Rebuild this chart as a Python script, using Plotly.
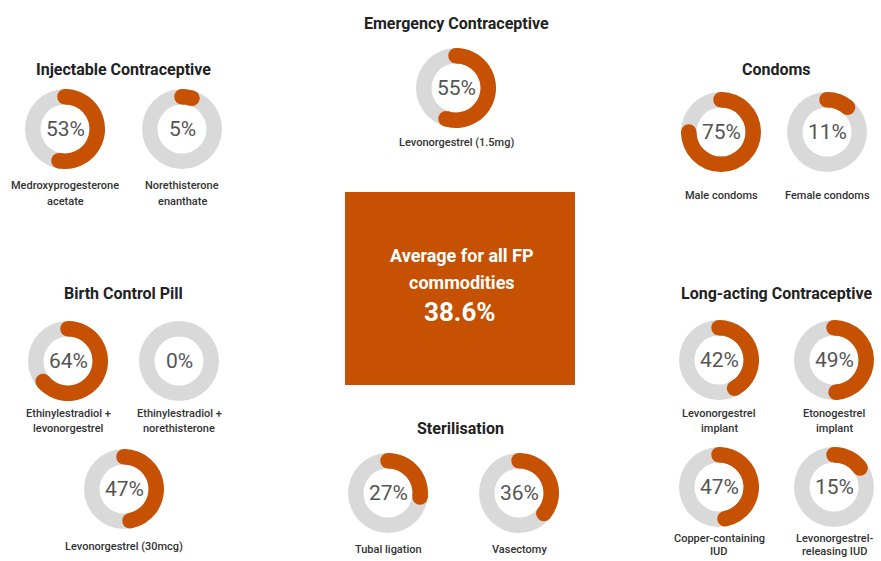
import plotly.graph_objects as go

# ---------------- data ----------------
group_titles = ["Injectable Contraceptive", "Emergency Contraceptive", "Condoms",
                "Birth Control Pill", "Sterilisation", "Long-acting Contraceptive"]
commodities = ["Medroxyprogesterone\nacetate", "Norethisterone\nenanthate",
               "Levonorgestrel (1.5mg)",
               "Male condoms", "Female condoms",
               "Ethinylestradiol +\nlevonorgestrel", "Ethinylestradiol +\nnorethisterone",
               "Levonorgestrel (30mcg)",
               "Tubal ligation", "Vasectomy",
               "Levonorgestrel\nimplant", "Etonogestrel\nimplant",
               "Copper-containing\nIUD", "Levonorgestrel-\nreleasing IUD"]
values = [53, 5, 55, 75, 11, 64, 0, 47, 27, 36, 42, 49, 47, 15]
average_label = "Average for all FP\ncommodities"
average_value = 38.6

# ---------------- layout (pixels) ----------------
W, H = 881, 561
donut_centers = [(65, 129), (182, 129), (456, 88), (721, 132), (827, 132),
                 (68, 361), (179, 361), (124, 489), (388, 493), (519, 493),
                 (719, 360), (834, 360), (719, 487), (834, 487)]
label_tops = [185, 185, 142, 195, 195, 413, 413, 546, 549, 549, 413, 413, 538, 538]
label_gaps = [16, 16, 16, 16, 16, 16, 16, 16, 16, 16, 16, 16, 13, 13]
title_pos = [(123, 70), (456, 24), (776, 70), (123, 293), (460, 428), (776, 293)]
box = (345, 192, 575, 385)

ORANGE = "#C65102"
GRAY = "#D9D9D9"
RD = 44.0          # half size of each polar domain in px
R_OUT = 40.0
R_IN = 24.5
THICK = R_OUT - R_IN

def px(x):
    return x / W

def py(y):
    return 1 - y / H

fig = go.Figure()
annotations = []
layout_polars = {}

for i, (lab, val, (cx, cy)) in enumerate(zip(commodities, values, donut_centers)):
    name = "polar" if i == 0 else f"polar{i+1}"
    sub = "polar" if i == 0 else f"polar{i+1}"
    base = R_IN / RD
    outer = R_OUT / RD
    mid = (base + outer) / 2
    # gray ring
    fig.add_trace(go.Barpolar(r=[outer - base], base=[base], theta=[180], width=[360],
                              marker=dict(color=GRAY, line=dict(width=0)),
                              subplot=sub, showlegend=False, hoverinfo="skip"))
    if val > 0:
        ang = val * 3.6
        fig.add_trace(go.Barpolar(r=[outer - base], base=[base], theta=[ang / 2], width=[ang],
                                  marker=dict(color=ORANGE, line=dict(width=0)),
                                  subplot=sub, showlegend=False,
                                  hovertemplate=lab.replace("\n", " ") + ": %{customdata}%<extra></extra>",
                                  customdata=[val]))
        # round caps
        fig.add_trace(go.Scatterpolar(r=[mid, mid], theta=[0, ang], mode="markers",
                                      marker=dict(color=ORANGE, size=THICK, line=dict(width=0)),
                                      subplot=sub, showlegend=False, hoverinfo="skip"))
    layout_polars[name] = dict(
        domain=dict(x=[px(cx - RD), px(cx + RD)], y=[py(cy + RD), py(cy - RD)]),
        radialaxis=dict(visible=False, range=[0, 1]),
        angularaxis=dict(visible=False, rotation=90, direction="clockwise"),
        bgcolor="rgba(0,0,0,0)", bargap=0, hole=0,
    )
    annotations.append(dict(x=px(cx), y=py(cy), xref="paper", yref="paper",
                            text=f"{val}%", showarrow=False, xanchor="center", yanchor="middle",
                            font=dict(family="Roboto", size=21, color="#555555")))
    for j, line in enumerate(lab.split("\n")):
        annotations.append(dict(x=px(cx), y=py(label_tops[i] + j * label_gaps[i]), xref="paper",
                                yref="paper", text=line, showarrow=False, xanchor="center",
                                yanchor="middle",
                                font=dict(family="Roboto", size=11, color="#333333", weight=500)))

for t, (tx, ty) in zip(group_titles, title_pos):
    annotations.append(dict(x=px(tx), y=py(ty), xref="paper", yref="paper", text=f"<b>{t}</b>",
                            showarrow=False, xanchor="center", yanchor="middle",
                            font=dict(family="Roboto", size=16, color="#222222")))

bx0, by0, bx1, by1 = box
bcx = (bx0 + bx1) / 2
for j, line in enumerate(average_label.split("\n")):
    annotations.append(dict(x=px(bcx + 2), y=py(255 + j * 27), xref="paper", yref="paper",
                            text=f"<b>{line}</b>", showarrow=False, xanchor="center", yanchor="middle",
                            font=dict(family="Roboto", size=18, color="white")))
annotations.append(dict(x=px(bcx), y=py(312), xref="paper", yref="paper",
                        text=f"<b>{average_value}%</b>", showarrow=False, xanchor="center",
                        yanchor="middle", font=dict(family="Roboto", size=26, color="white")))

fig.update_layout(
    width=W, height=H, margin=dict(l=0, r=0, t=0, b=0),
    paper_bgcolor="white", plot_bgcolor="white",
    annotations=annotations,
    shapes=[dict(type="rect", xref="paper", yref="paper", x0=px(bx0), x1=px(bx1),
                 y0=py(by1), y1=py(by0), fillcolor=ORANGE, line=dict(width=0), layer="below")],
    **layout_polars,
)

fig.write_html("out.html", config={"displayModeBar": False},
               post_script="document.body.style.margin='0';document.body.style.overflow='hidden';")
